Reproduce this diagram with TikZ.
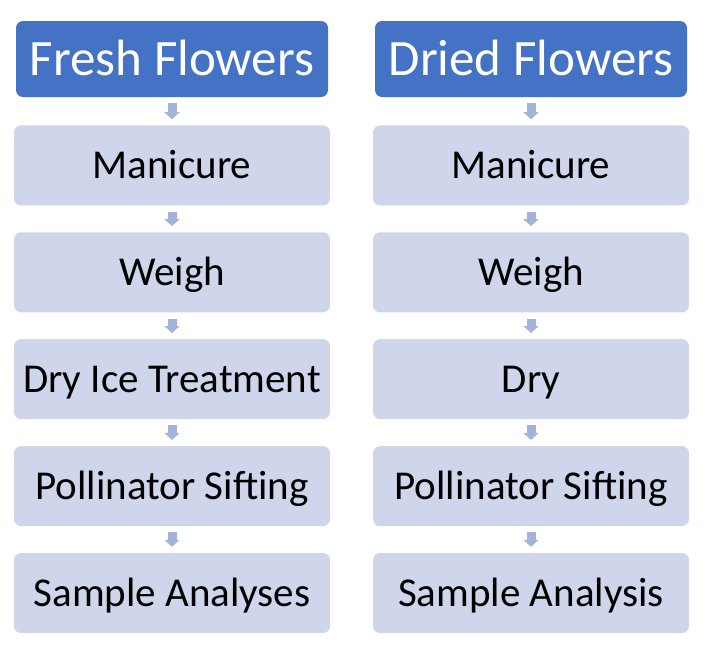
\documentclass[tikz,border=0pt]{standalone}
\usepackage{fontspec}
\setmainfont{Carlito}
\usetikzlibrary{positioning,arrows.meta}
\definecolor{headblue}{HTML}{4472C4}
\definecolor{steplight}{HTML}{CFD5EA}
\definecolor{arrowblue}{HTML}{A4B3DA}

\begin{document}
\begin{tikzpicture}[x=1pt,y=-1pt,node distance=26.5pt]
        \tikzstyle{head}=[rectangle, rounded corners=7pt, fill=headblue, text=white, inner sep=2pt, minimum width=312pt, minimum height=76pt, text height=33pt, text depth=0pt, font=\fontsize{51}{58}\selectfont]
        \tikzstyle{stepbox}=[rectangle, rounded corners=7pt, fill=steplight, text=black, inner sep=2pt, minimum width=316pt, minimum height=80pt, text height=26.5pt, text depth=0pt, font=\fontsize{41}{48}\selectfont]
        \tikzstyle{flow}=[color=arrowblue, line width=9pt, -{Triangle[width=15pt,length=7pt]}, shorten <=6pt, shorten >=6pt]
        \useasboundingbox (0,0) rectangle (707,646);

        % fresh flowers
        \node[head]     (F)                          at (172,59)  {Fresh Flowers};
        \node[stepbox]  (F1)  [below=28pt of F]                   {Manicure};
        \node[stepbox]  (F2)  [below=of F1]                       {Weigh};
        \node[stepbox]  (F3)  [below=of F2]                       {Dry Ice Treatment};
        \node[stepbox]  (F4)  [below=of F3]                       {Pollinator Sifting};
        \node[stepbox]  (F5)  [below=of F4]                       {Sample Analyses};

        % dried flowers
        \node[head]     (D)                          at (531,59)  {Dried Flowers};
        \node[stepbox]  (D1)  [below=28pt of D]                   {Manicure};
        \node[stepbox]  (D2)  [below=of D1]                       {Weigh};
        \node[stepbox]  (D3)  [below=of D2]                       {Dry};
        \node[stepbox]  (D4)  [below=of D3]                       {Pollinator Sifting};
        \node[stepbox]  (D5)  [below=of D4]                       {Sample Analysis};

        \path[flow] (F) edge (F1)
                    (F1) edge (F2)
                    (F2) edge (F3)
                    (F3) edge (F4)
                    (F4) edge (F5)
                    (D) edge (D1)
                    (D1) edge (D2)
                    (D2) edge (D3)
                    (D3) edge (D4)
                    (D4) edge (D5);
      \end{tikzpicture}
\end{document}
